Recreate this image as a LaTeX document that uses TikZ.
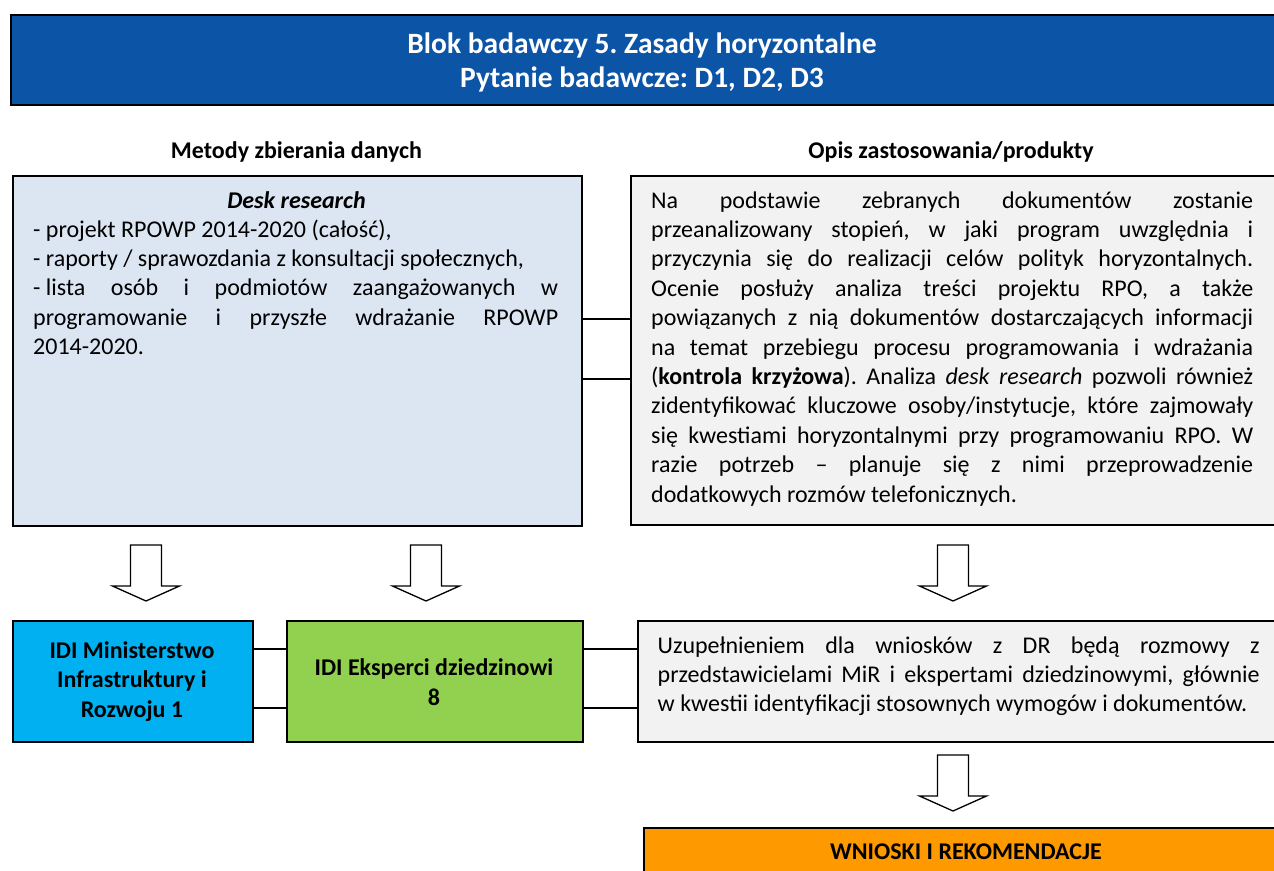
\documentclass[tikz,border=0pt]{standalone}
\usepackage{fontspec}
\setmainfont{Carlito}
\frenchspacing
\definecolor{titleblue}{RGB}{12,84,166}
\definecolor{deskblue}{HTML}{DCE6F2}
\definecolor{paleg}{HTML}{F2F2F2}
\definecolor{idiblue}{HTML}{00B0F0}
\definecolor{idigreen}{HTML}{92D050}
\definecolor{wnorange}{HTML}{FF9900}
\newcommand{\natsp}{\frenchspacing\spaceskip=0pt\xspaceskip=0pt\relax}
\newcommand{\jl}[1]{\makebox[525pt][s]{#1}}
\newcommand{\jr}[1]{\makebox[602pt][s]{#1}}
\newcommand{\blockarrow}[2]{\draw[barrow] (#1,#2) ++(-15.5,0) -- ++(31,0) -- ++(0,41) -- ++(18,0) -- ++(-33.5,15) -- ++(-33.5,-15) -- ++(18,0) -- cycle;}
\begin{document}
\begin{tikzpicture}[x=1pt,y=-1pt,
  box/.style={draw=black, line width=1.8pt, rectangle, inner sep=0pt, anchor=north west},
  link/.style={draw=black, line width=1.8pt},
  barrow/.style={draw=black, fill=white, line width=1.3pt, line join=miter},
  body/.style={font=\fontsize{24}{29.4}\selectfont, inner sep=0pt, anchor=base west, align=left},
  bold/.style={font=\fontsize{24}{29.4}\selectfont\bfseries, inner sep=0pt, align=center},
]
\path[use as bounding box] (0,0) rectangle (1274,870);
\clip (0,0) rectangle (1274,870);

% title
\node[box, fill=titleblue, minimum width=1290pt, minimum height=90pt] (title) at (10,14) {};
\node[font=\fontsize{29.5}{33.4}\selectfont\bfseries, text=white, align=center, inner sep=0pt] (titletext) at (642,62.5)
  {\natsp Blok badawczy 5. Zasady horyzontalne\\\natsp Pytanie badawcze: D1, D2, D3};

% headings
\node[bold, anchor=base] (h1) at (296.5,158) {\natsp Metody zbierania danych};
\node[bold, anchor=base] (h2) at (951,158) {\natsp Opis zastosowania/produkty};

% top boxes
\node[box, fill=deskblue, minimum width=569pt, minimum height=350pt] (desk) at (12,175) {};
\node[box, fill=paleg, minimum width=660pt, minimum height=349pt] (opis) at (630,175) {};

\node[bold, anchor=base, font=\fontsize{24}{29.4}\selectfont\bfseries\itshape] (desktitle) at (296.5,208) {\natsp Desk research};
\node[body, text width=525pt] (desktext) at (33,237) {\natsp
\mbox{- projekt RPOWP 2014-2020 (całość),}\\
\mbox{- raporty / sprawozdania z konsultacji społecznych,}\\
\jl{-\kern0.226em lista osób i podmiotów zaangażowanych w}\\
\jl{programowanie i przyszłe wdrażanie RPOWP}\\
\mbox{2014-2020.}};

\node[body, text width=602pt] (opistext) at (651,208) {\natsp
\jr{Na podstawie zebranych dokumentów zostanie}\\
\jr{przeanalizowany stopień, w jaki program uwzględnia i}\\
\jr{przyczynia się do realizacji celów polityk horyzontalnych.}\\
\jr{Ocenie posłuży analiza treści projektu RPO, a także}\\
\jr{powiązanych z nią dokumentów dostarczających informacji}\\
\jr{na temat przebiegu procesu programowania i wdrażania}\\
\jr{(\textbf{kontrola krzyżowa}). Analiza \textit{desk research} pozwoli również}\\
\jr{zidentyfikować kluczowe osoby/instytucje, które zajmowały}\\
\jr{się kwestiami horyzontalnymi przy programowaniu RPO. W}\\
\jr{razie potrzeb – planuje się z nimi przeprowadzenie}\\
\mbox{dodatkowych rozmów telefonicznych.}};

\coordinate (ya) at (0,319);
\coordinate (yb) at (0,379);
\draw[link] (desk.east |- ya) -- (opis.west |- ya);
\draw[link] (desk.east |- yb) -- (opis.west |- yb);

% arrows
\blockarrow{146}{545}
\blockarrow{426}{545}
\blockarrow{953}{545}
\blockarrow{953}{755}

% second row
\node[box, fill=idiblue, minimum width=240pt, minimum height=121pt] (mir) at (12,620) {};
\node[bold] (mirtext) at (132,681.5) {\natsp IDI Ministerstwo\\\natsp Infrastruktury i\\\natsp Rozwoju 1};
\node[box, fill=idigreen, minimum width=296pt, minimum height=121pt] (eksp) at (286,620) {};
\node[bold] (eksptext) at (434,682) {\natsp IDI Eksperci dziedzinowi\\8};
\node[box, fill=paleg, minimum width=660pt, minimum height=121pt] (uzup) at (637,620) {};
\node[body, text width=602pt] (uzuptext) at (657.5,653) {\natsp
\jr{Uzupełnieniem dla wniosków z DR będą rozmowy z}\\
\jr{przedstawicielami MiR i ekspertami dziedzinowymi, głównie}\\
\mbox{w kwestii identyfikacji stosownych wymogów i dokumentów.}};

\coordinate (yc) at (0,649);
\coordinate (yd) at (0,708);
\draw[link] (mir.east |- yc) -- (eksp.west |- yc);
\draw[link] (mir.east |- yd) -- (eksp.west |- yd);
\draw[link] (eksp.east |- yc) -- (uzup.west |- yc);
\draw[link] (eksp.east |- yd) -- (uzup.west |- yd);

% conclusions
\node[box, fill=wnorange, minimum width=660pt, minimum height=70pt] (wn) at (643,827) {};
\node[bold, anchor=base] (wntext) at (966,859) {\natsp WNIOSKI I REKOMENDACJE};
\end{tikzpicture}
\end{document}
